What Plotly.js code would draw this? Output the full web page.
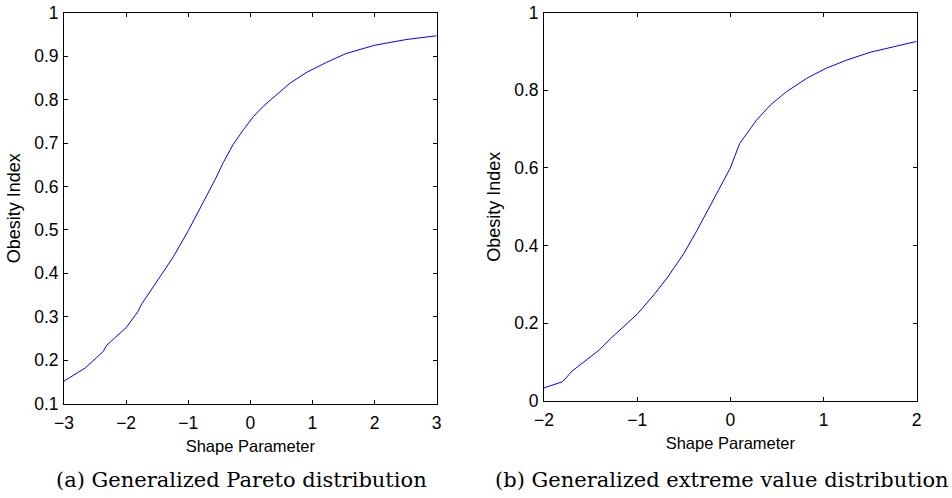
<!DOCTYPE html>
<html>
<head>
<meta charset="utf-8">
<script src="https://cdn.plot.ly/plotly-3.0.1.min.js"></script>
<style>html,body{margin:0;padding:0;background:#fff;}#chart{width:952px;height:498px;}</style>
</head>
<body>
<div id="chart"></div>
<script>
// (a) Generalized Pareto distribution
const gpdShape = [-3, -2.66, -2.37, -2.31, -2.0, -1.81, -1.76, -1.52, -1.24, -1.0, -0.81, -0.57, -0.44, -0.28, -0.11, 0.05, 0.21, 0.42, 0.64, 0.91, 1.23, 1.54, 2.0, 2.5, 3.0];
const gpdIndex = [0.152, 0.182, 0.220, 0.235, 0.275, 0.312, 0.327, 0.379, 0.438, 0.498, 0.549, 0.615, 0.654, 0.696, 0.731, 0.761, 0.785, 0.811, 0.838, 0.863, 0.886, 0.906, 0.925, 0.938, 0.947];
// (b) Generalized extreme value distribution
const gevShape = [-2, -1.8, -1.70, -1.58, -1.41, -1.29, -1.0, -0.82, -0.68, -0.5, -0.36, -0.2, 0.0, 0.10, 0.28, 0.43, 0.6, 0.82, 1.03, 1.25, 1.5, 1.75, 2.0];
const gevIndex = [0.033, 0.049, 0.076, 0.099, 0.130, 0.159, 0.223, 0.273, 0.316, 0.379, 0.438, 0.510, 0.600, 0.663, 0.723, 0.762, 0.796, 0.831, 0.857, 0.878, 0.898, 0.912, 0.926];

const xTitle = 'Shape Parameter';
const yTitle = 'Obesity Index';
const captionA = '(a) Generalized Pareto distribution';
const captionB = '(b) Generalized extreme value distribution';

const W = 952, H = 498;
const fontFam = '"Liberation Sans", Arial, Helvetica, sans-serif';
const serif = '"DejaVu Serif", "Liberation Serif", serif';

const traces = [
  {x: gpdShape, y: gpdIndex, type: 'scatter', mode: 'lines', line: {color: '#0000ff', width: 1}, xaxis: 'x', yaxis: 'y', hoverinfo: 'skip'},
  {x: gevShape, y: gevIndex, type: 'scatter', mode: 'lines', line: {color: '#0000ff', width: 1}, xaxis: 'x2', yaxis: 'y2', hoverinfo: 'skip'}
];

function ax(extra) {
  return Object.assign({
    showgrid: false, zeroline: false, showline: true, linecolor: '#000', linewidth: 1,
    mirror: 'ticks', ticks: 'inside', ticklen: 4, tickcolor: '#000', tickwidth: 1,
    tickfont: {family: fontFam, size: 17.5, color: '#000'},
    automargin: false, fixedrange: true
  }, extra);
}

const xTitleFont = {family: fontFam, size: 16.5, color: '#000'};
const yTitleFont = {family: fontFam, size: 18, color: '#000'};

const layout = {
  width: W, height: H,
  margin: {l: 0, r: 0, t: 0, b: 0},
  paper_bgcolor: '#fff', plot_bgcolor: '#fff',
  showlegend: false,
  font: {family: fontFam, color: '#000'},
  xaxis: ax({domain: [64/W, 436.7/W], range: [-3, 3], dtick: 1, tick0: 0, anchor: 'y', ticklabelstandoff: 3,
    title: {text: xTitle, font: xTitleFont, standoff: 8}}),
  yaxis: ax({domain: [1 - 403.7/H, 1 - 12.7/H], range: [0.1, 1], dtick: 0.1, tick0: 0, anchor: 'x', ticklabelstandoff: 1,
    title: {text: yTitle, font: yTitleFont, standoff: 8}}),
  xaxis2: ax({domain: [544/W, 916.7/W], range: [-2, 2], dtick: 1, tick0: 0, anchor: 'y2', ticklabelstandoff: 3,
    title: {text: xTitle, font: xTitleFont, standoff: 8}}),
  yaxis2: ax({domain: [1 - 400.7/H, 1 - 12.7/H], range: [0, 1], dtick: 0.2, tick0: 0, anchor: 'x2', ticklabelstandoff: 1,
    title: {text: yTitle, font: yTitleFont, standoff: 8}}),
  annotations: [
    {text: captionA, xref: 'paper', yref: 'paper', x: 241.5/W, y: 1 - 480/H, xanchor: 'center', yanchor: 'middle',
     showarrow: false, font: {family: serif, size: 21, color: '#000'}},
    {text: captionB, xref: 'paper', yref: 'paper', x: 722/W, y: 1 - 480/H, xanchor: 'center', yanchor: 'middle',
     showarrow: false, font: {family: serif, size: 21, color: '#000'}}
  ]
};

Plotly.newPlot('chart', traces, layout, {staticPlot: true, displayModeBar: false});
</script>
</body>
</html>
